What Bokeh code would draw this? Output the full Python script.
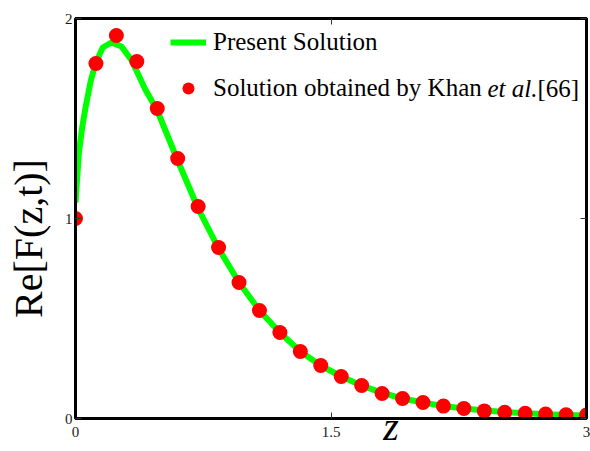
import math
from bokeh.plotting import figure
from bokeh.models import (Range1d, LinearAxis, Legend, LegendItem, Label,
                          FixedTicker, NumeralTickFormatter, CustomJSTickFormatter)
from bokeh.embed import file_html
from bokeh.resources import INLINE

# ---- data ----
z_khan = [0.0, 0.12, 0.24, 0.36, 0.48, 0.60, 0.72, 0.84, 0.96, 1.08, 1.20, 1.32, 1.44,
          1.56, 1.68, 1.80, 1.92, 2.04, 2.16, 2.28, 2.40, 2.52, 2.64, 2.76, 2.88, 3.00]
re_khan = [1.00, 1.775, 1.915, 1.785, 1.55, 1.30, 1.06, 0.855, 0.68, 0.54, 0.43, 0.335, 0.265,
           0.21, 0.165, 0.125, 0.10, 0.08, 0.062, 0.05, 0.038, 0.031, 0.026, 0.022, 0.019, 0.017]

z_present = [0.0, 0.02, 0.04, 0.06, 0.09, 0.12, 0.16, 0.21, 0.27, 0.33, 0.41, 0.48, 0.60,
             0.72, 0.84, 0.96, 1.08, 1.20, 1.32, 1.44, 1.56, 1.68, 1.80, 1.92, 2.04, 2.16,
             2.28, 2.40, 2.52, 2.64, 2.76, 2.88, 3.00]
re_present = [1.08, 1.33, 1.46, 1.56, 1.69, 1.78, 1.855, 1.88, 1.86, 1.79, 1.645, 1.54, 1.29,
              1.05, 0.85, 0.68, 0.54, 0.43, 0.335, 0.265, 0.21, 0.165, 0.128, 0.10, 0.08, 0.062,
              0.05, 0.04, 0.032, 0.026, 0.021, 0.018, 0.015]

x_ticks = [0, 1.5, 3]
y_ticks = [0, 1, 2]

SERIF = "Liberation Serif"
NBSP = "\u00a0"

p = figure(width=590, height=451, x_range=Range1d(0, 3), y_range=Range1d(0, 2),
           output_backend="svg", toolbar_location=None, title=None,
           min_border_left=75, min_border_right=4, min_border_top=18, min_border_bottom=33)
p.background_fill_color = "white"
p.border_fill_color = "white"
p.grid.visible = False
p.outline_line_color = "black"
p.outline_line_width = 3
p.outline_line_alpha = 1.0

line_r = p.line(z_present, re_present, line_color="#00ff00", line_width=6, line_join="round")
dots_r = p.scatter(z_khan, re_khan, marker="circle", size=15, fill_color="#ff0000",
                   line_color=None)

def style_axis(ax, show_labels, standoff):
    ax.axis_line_color = "black"
    ax.axis_line_width = 3
    ax.major_tick_in = 6
    ax.major_tick_out = 0
    ax.major_tick_line_color = "#333333"
    ax.major_tick_line_width = 1
    ax.minor_tick_in = 0
    ax.minor_tick_out = 0
    ax.major_label_standoff = standoff
    ax.major_label_text_font = SERIF
    ax.major_label_text_font_size = "15px"
    ax.major_label_text_color = "#1a1a1a"
    if not show_labels:
        ax.formatter = CustomJSTickFormatter(code="return ''")

xa = p.xaxis[0]
xa.ticker = FixedTicker(ticks=x_ticks)
xa.formatter = NumeralTickFormatter(format="0.[0]")
style_axis(xa, True, 8)
xa.axis_label = NBSP * 12 + "z"
xa.axis_label_text_font = SERIF
xa.axis_label_text_font_style = "italic"
xa.axis_label_text_font_size = "40px"
xa.axis_label_text_color = "black"
xa.axis_label_standoff = -36

ya = p.yaxis[0]
ya.ticker = FixedTicker(ticks=y_ticks)
style_axis(ya, True, 3)
ya.axis_label = "Re[F(z,t)]" + NBSP * 4
ya.axis_label_text_font = SERIF
ya.axis_label_text_font_style = "normal"
ya.axis_label_text_font_size = "40px"
ya.axis_label_text_color = "black"
ya.axis_label_standoff = 11

top = LinearAxis(ticker=FixedTicker(ticks=x_ticks))
style_axis(top, False, 0)
p.add_layout(top, "above")
right = LinearAxis(ticker=FixedTicker(ticks=y_ticks))
style_axis(right, False, 0)
p.add_layout(right, "right")

# ---- legend ----
legend = Legend(items=[LegendItem(label="Present Solution", renderers=[line_r]),
                       LegendItem(label="Solution obtained by Khan ", renderers=[dots_r])],
                location=(95, 315))
legend.border_line_color = None
legend.background_fill_alpha = 0
legend.padding = 0
legend.margin = 0
legend.glyph_width = 36
legend.glyph_height = 30
legend.label_height = 30
legend.label_standoff = 7
legend.spacing = 16
legend.label_text_font = SERIF
legend.label_text_font_size = "25px"
legend.label_text_color = "black"
p.add_layout(legend)

def lab(text, x, y, size, style="normal", align="left", baseline="middle"):
    p.add_layout(Label(text=text, x=x, y=y, x_units="screen", y_units="screen",
                       text_font=SERIF, text_font_size=size,
                       text_font_style=style, text_color="black",
                       text_align=align, text_baseline=baseline))

# rest of the second legend entry
lab("et al.", 412, 330, "25px", "italic")
lab("[66]", 462, 330, "25px")

open("out.html", "w").write(file_html(p, INLINE))
